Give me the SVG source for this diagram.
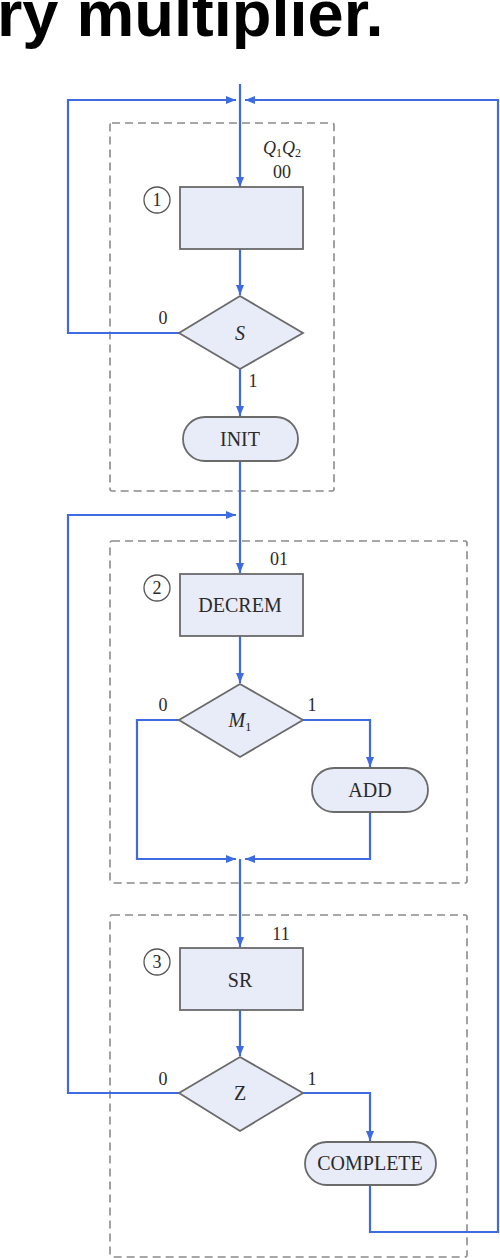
<svg xmlns="http://www.w3.org/2000/svg" width="500" height="1258" viewBox="0 0 500 1258">
<style>
.title{font-family:"Liberation Sans",Arial,sans-serif;font-weight:bold;font-size:65px;fill:#000}
.frame{fill:none;stroke:#8a8a8a;stroke-width:1.6;stroke-dasharray:8 5}
.shape{fill:#e8ebf8;stroke:#6a6a6a;stroke-width:1.8}
.txt{font-family:"Liberation Serif","Times New Roman",serif;font-size:20px;fill:#2a2a2a;text-anchor:middle}
.lbl{font-family:"Liberation Serif","Times New Roman",serif;font-size:18px;fill:#2a2a2a;text-anchor:middle}
.it{font-style:italic}
.circ{fill:#fff;stroke:#555;stroke-width:1.3}
.wire{fill:none;stroke:#3e6be0;stroke-width:2.2}
</style>
<defs>
<marker id="arr" markerUnits="userSpaceOnUse" markerWidth="11" markerHeight="9" refX="10" refY="4" orient="auto">
<path d="M0,0 L10,4 L0,8 z" fill="#3e6be0"/>
</marker>
</defs>
<rect width="500" height="1258" fill="#fff"/>
<text class="title" x="-3" y="36">ry multiplier.</text>

<g id="frames">
<rect class="frame" x="110" y="123" width="224" height="368" rx="2"/>
<rect class="frame" x="110" y="541" width="357" height="342" rx="2"/>
<rect class="frame" x="110" y="915" width="357" height="342" rx="2"/>
</g>

<g id="connectors">
<path class="wire" marker-end="url(#arr)" d="M179,333 H68 V100 H236"/>
<path class="wire" marker-end="url(#arr)" d="M370,1185 V1232 H498 V100 H245"/>
<path class="wire" marker-end="url(#arr)" d="M240,84 V187"/>
<path class="wire" marker-end="url(#arr)" d="M240,249 V295"/>
<path class="wire" marker-end="url(#arr)" d="M240,369 V416"/>
<path class="wire" marker-end="url(#arr)" d="M240,461 V573"/>
<path class="wire" marker-end="url(#arr)" d="M179,1093 H68 V515 H236"/>
<path class="wire" marker-end="url(#arr)" d="M240,636 V683"/>
<path class="wire" marker-end="url(#arr)" d="M179,720 H137 V859 H236"/>
<path class="wire" marker-end="url(#arr)" d="M303,720 H370 V767"/>
<path class="wire" marker-end="url(#arr)" d="M370,812 V859 H245"/>
<path class="wire" marker-end="url(#arr)" d="M240,859 V947"/>
<path class="wire" marker-end="url(#arr)" d="M240,1010 V1056"/>
<path class="wire" marker-end="url(#arr)" d="M303,1093 H370 V1141"/>
</g>

<g id="state1">
<rect class="shape" x="180" y="187" width="123" height="62"/>
<circle class="circ" cx="157" cy="200" r="13"/>
<text class="lbl" x="157" y="206">1</text>
<text class="lbl" x="282" y="154"><tspan class="it">Q</tspan><tspan font-size="12" dy="3">1</tspan><tspan class="it" dy="-3">Q</tspan><tspan font-size="12" dy="3">2</tspan></text>
<text class="lbl" x="282" y="178">00</text>
</g>

<g id="decS">
<polygon class="shape" points="240,296 303,333 240,369 179,333"/>
<text class="txt it" x="240" y="340">S</text>
<text class="lbl" x="163" y="324">0</text>
<text class="lbl" x="253" y="387">1</text>
</g>

<g id="init">
<rect class="shape" x="183" y="417" width="115" height="44" rx="22"/>
<text class="txt" x="240" y="446">INIT</text>
</g>

<g id="state2">
<rect class="shape" x="180" y="574" width="123" height="62"/>
<text class="txt" x="240" y="612">DECREM</text>
<circle class="circ" cx="157" cy="588" r="13"/>
<text class="lbl" x="157" y="594">2</text>
<text class="lbl" x="279" y="565">01</text>
</g>

<g id="decM1">
<polygon class="shape" points="240,684 303,720 240,757 179,720"/>
<text class="txt" x="240" y="727"><tspan class="it">M</tspan><tspan font-size="13" dy="4">1</tspan></text>
<text class="lbl" x="163" y="711">0</text>
<text class="lbl" x="312" y="711">1</text>
</g>

<g id="add">
<rect class="shape" x="312" y="768" width="116" height="44" rx="22"/>
<text class="txt" x="370" y="797">ADD</text>
</g>

<g id="state3">
<rect class="shape" x="180" y="948" width="123" height="62"/>
<text class="txt" x="240" y="987">SR</text>
<circle class="circ" cx="157" cy="962" r="13"/>
<text class="lbl" x="157" y="968">3</text>
<text class="lbl" x="281" y="940">11</text>
</g>

<g id="decZ">
<polygon class="shape" points="240,1057 303,1093 240,1131 179,1093"/>
<text class="txt" x="240" y="1100">Z</text>
<text class="lbl" x="163" y="1085">0</text>
<text class="lbl" x="312" y="1085">1</text>
</g>

<g id="complete">
<rect class="shape" x="305" y="1142" width="131" height="43" rx="21.5"/>
<text class="txt" x="370" y="1170">COMPLETE</text>
</g>
</svg>
